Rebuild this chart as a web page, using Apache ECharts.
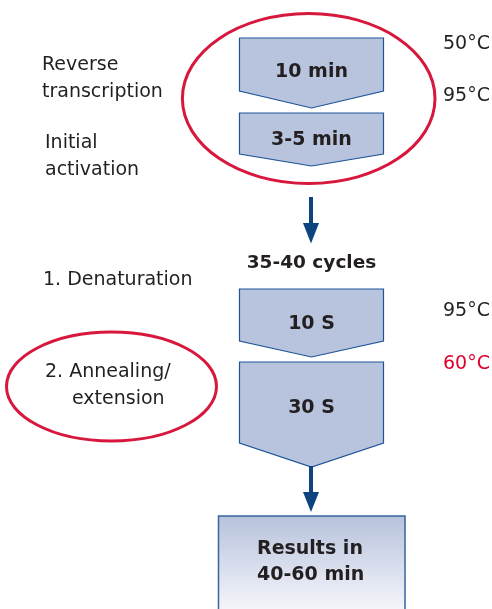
<!DOCTYPE html>
<html>
<head>
<meta charset="utf-8">
<script src="https://cdn.jsdelivr.net/npm/echarts@6/dist/echarts.min.js"></script>
<style>html,body{margin:0;padding:0;background:#fff}#chart{width:492px;height:609px}</style>
</head>
<body>
<div id="chart"></div>
<script>
// ---- data ----
const stepDurations = ['10 min', '3-5 min', '10 S', '30 S'];
const phaseLabels = [['Reverse', 'transcription'], ['Initial', 'activation'], ['1. Denaturation'], ['2. Annealing/', 'extension']];
const temperatures = ['50°C', '95°C', '95°C', '60°C'];
const highlightedTemperature = [false, false, false, true];
const cycleLabel = '35-40 cycles';
const resultLabel = ['Results in', '40-60 min'];

// ---- layout / style (pixel space of a hidden 492x609 value grid) ----
const W = 492, H = 609;
const FONT = '"DejaVu Sans", sans-serif';
const INK = '#231f20', RED = '#d8173c', RED_TXT = '#e0002f', BLUE = '#0d437f', FILL = '#b8c4de', EDGE = '#1f5597';
const boxX = [239.5, 383.5];
const pentagonRows = [
  {top: 38, body: 91, tip: 108, label: 72},
  {top: 113, body: 154, tip: 166, label: 140.5},
  {top: 289, body: 341, tip: 357, label: 324},
  {top: 362, body: 443, tip: 467, label: 408}
];
const phaseRows = [
  {x: [42, 42], y: [65, 91.6]},
  {x: [45, 45], y: [143, 169.7]},
  {x: [43], y: [279.7]},
  {x: [45, 72], y: [372.5, 399]}
];
const tempX = 443, tempY = [44.5, 95.8, 310.8, 364.5];
const ellipses = [{cx: 308.7, cy: 98.5, rx: 126.3, ry: 85}, {cx: 111.5, cy: 386.5, rx: 105, ry: 54.5}];
const arrows = [{x: 311, y0: 197, y1: 223, tip: 243.5}, {x: 311, y0: 466, y1: 492, tip: 512}];
const resultBox = {x0: 218.5, x1: 405, y0: 516, y1: 625, textX: 257, textY: [549.2, 575.5]};

const chart = echarts.init(document.getElementById('chart'), null, {renderer: 'canvas'});

function textEl(api, str, x, y, opts) {
  const p = api.coord([x, y]);
  return {
    type: 'text', x: p[0], y: p[1],
    style: Object.assign({text: str, fill: INK, font: '19px ' + FONT, align: 'left', verticalAlign: 'middle'}, opts || {})
  };
}

const option = {
  animation: false,
  grid: {left: 0, right: 0, top: 0, bottom: 0},
  xAxis: {type: 'value', min: 0, max: W, show: false},
  yAxis: {type: 'value', min: 0, max: H, inverse: true, show: false},
  series: [
    // result box with gradient
    {
      type: 'custom', coordinateSystem: 'cartesian2d', data: [[0]], z: 1,
      renderItem: function (params, api) {
        const a = api.coord([resultBox.x0, resultBox.y0]);
        const b = api.coord([resultBox.x1, resultBox.y1]);
        const kids = [{
          type: 'rect',
          shape: {x: a[0], y: a[1], width: b[0] - a[0], height: b[1] - a[1]},
          style: {
            fill: new echarts.graphic.LinearGradient(0, 0, 0, 1, [
              {offset: 0, color: '#b6c2dc'}, {offset: 0.85, color: '#f4f5fa'}, {offset: 1, color: '#ffffff'}
            ]),
            stroke: '#3a63a0', lineWidth: 1.5
          }
        }];
        resultLabel.forEach(function (t, i) {
          kids.push(textEl(api, t, resultBox.textX, resultBox.textY[i], {font: 'bold 19px ' + FONT}));
        });
        return {type: 'group', children: kids};
      }
    },
    // pentagon step boxes
    {
      type: 'custom', coordinateSystem: 'cartesian2d', z: 2,
      data: stepDurations.map(function (d, i) { return [i]; }),
      renderItem: function (params, api) {
        const i = params.dataIndex, r = pentagonRows[i];
        const cx = (boxX[0] + boxX[1]) / 2;
        const pts = [[boxX[0], r.top], [boxX[1], r.top], [boxX[1], r.body], [cx, r.tip], [boxX[0], r.body]]
          .map(function (p) { return api.coord(p); });
        return {type: 'group', children: [
          {type: 'polygon', shape: {points: pts}, style: {fill: FILL, stroke: EDGE, lineWidth: 1.2}},
          textEl(api, stepDurations[i], cx, r.label, {font: 'bold 19px ' + FONT, align: 'center'})
        ]};
      }
    },
    // arrows
    {
      type: 'custom', coordinateSystem: 'cartesian2d', z: 3,
      data: arrows.map(function (a, i) { return [i]; }),
      renderItem: function (params, api) {
        const a = arrows[params.dataIndex];
        const s0 = api.coord([a.x - 2, a.y0]), s1 = api.coord([a.x + 2, a.y1 + 1]);
        const head = [[a.x - 8, a.y1], [a.x + 8, a.y1], [a.x, a.tip]].map(function (p) { return api.coord(p); });
        return {type: 'group', children: [
          {type: 'rect', shape: {x: s0[0], y: s0[1], width: s1[0] - s0[0], height: s1[1] - s0[1]}, style: {fill: BLUE}},
          {type: 'polygon', shape: {points: head}, style: {fill: BLUE}}
        ]};
      }
    },
    // red highlight ellipses
    {
      type: 'custom', coordinateSystem: 'cartesian2d', z: 4,
      data: ellipses.map(function (e, i) { return [i]; }),
      renderItem: function (params, api) {
        const e = ellipses[params.dataIndex];
        const c = api.coord([e.cx, e.cy]);
        const rx = api.coord([e.cx + e.rx, e.cy])[0] - c[0];
        const ry = Math.abs(api.coord([e.cx, e.cy + e.ry])[1] - c[1]);
        return {type: 'ellipse', shape: {cx: c[0], cy: c[1], rx: rx, ry: ry}, style: {fill: 'none', stroke: RED, lineWidth: 3}};
      }
    },
    // phase labels (left)
    {
      type: 'custom', coordinateSystem: 'cartesian2d', z: 5,
      data: phaseLabels.map(function (p, i) { return [i]; }),
      renderItem: function (params, api) {
        const i = params.dataIndex, row = phaseRows[i];
        return {type: 'group', children: phaseLabels[i].map(function (line, j) {
          return textEl(api, line, row.x[j], row.y[j], {font: '19px ' + FONT});
        })};
      }
    },
    // temperatures (right)
    {
      type: 'custom', coordinateSystem: 'cartesian2d', z: 5,
      data: temperatures.map(function (t, i) { return [i]; }),
      renderItem: function (params, api) {
        const i = params.dataIndex;
        return textEl(api, temperatures[i], tempX, tempY[i], {font: '19px ' + FONT, fill: highlightedTemperature[i] ? RED_TXT : INK});
      }
    },
    // cycles label
    {
      type: 'custom', coordinateSystem: 'cartesian2d', z: 5, data: [[0]],
      renderItem: function (params, api) {
        return textEl(api, cycleLabel, 311.5, 263, {font: 'bold 18.5px ' + FONT, align: 'center'});
      }
    }
  ]
};
chart.setOption(option);
</script>
</body>
</html>
